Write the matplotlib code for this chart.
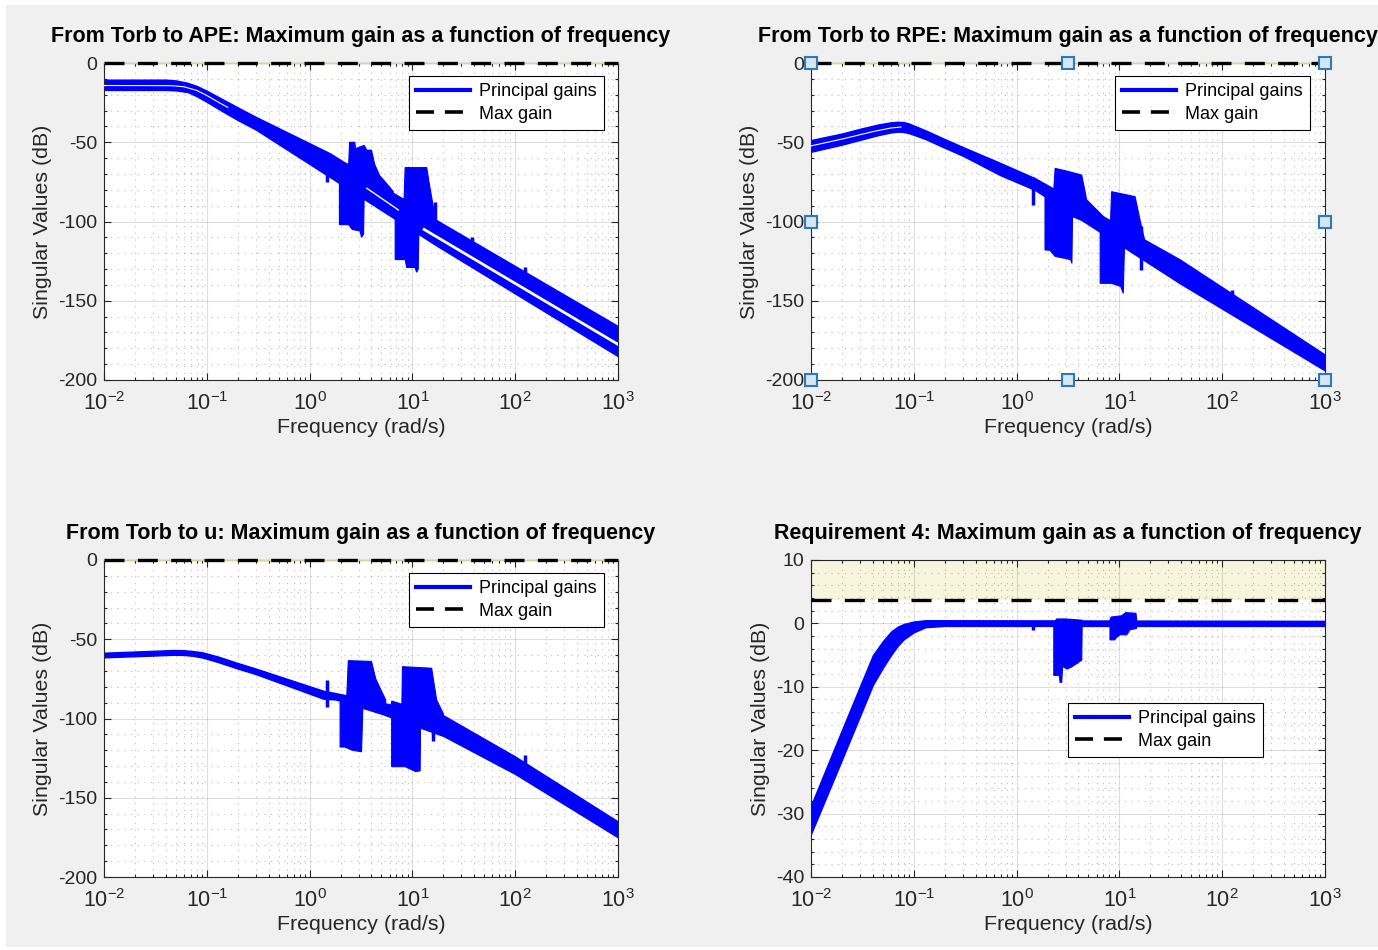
import numpy as np
import matplotlib
matplotlib.use('Agg')
import matplotlib.pyplot as plt
from matplotlib.ticker import LogLocator, MultipleLocator, NullFormatter
from matplotlib.lines import Line2D
from matplotlib.patches import Rectangle

plt.rcParams['font.family'] = ['Liberation Sans', 'DejaVu Sans']
plt.rcParams['axes.unicode_minus'] = False
plt.rcParams['mathtext.default'] = 'regular'

# ---- panel 1 : Torb -> APE (dB values) ----
ape_f = [0.01, 0.04, 0.05, 0.065, 0.08, 0.1, 0.13, 0.2, 0.3, 1.58, 17, 1000]
ape_top = [-10.5, -10.5, -11, -12.5, -14.5, -17.5, -21.5, -28, -34, -57, -99, -166]
ape_bot = [-17, -17, -17.3, -18.3, -21, -24.5, -29, -36, -42, -72, -115, -185]
ape_resA_f = [1.95, 2.4, 2.45, 2.75, 2.8, 3.4, 3.6, 4.0, 4.3, 4.8, 5.6, 6.5, 6.5, 3.4, 3.35, 3.2, 3.1, 2.6, 2.4, 1.95]
ape_resA_db = [-62, -64, -50, -50, -54, -52, -55, -55, -64, -71, -76, -81, -86, -80, -108, -110, -106, -105, -102, -102]
ape_resB_f = [6.8, 8.3, 8.5, 13.8, 14.5, 16.0, 16.0, 11.6, 11.4, 11.0, 10.6, 8.8, 8.5, 6.8]
ape_resB_db = [-83, -86, -66, -66, -75, -91, -100, -100, -130, -132, -129, -129, -124, -124]
ape_spike_f = [1.47, 16.6, 37.8, 124, 514]
ape_spike_lo = [-75, -107, -118, -143, -164]
ape_spike_hi = [-57, -88, -110, -129, -158]
ape_gap1_f = [0.01, 0.045, 0.06, 0.08, 0.1, 0.13, 0.16]
ape_gap1_db = [-14.2, -14.3, -15, -17.3, -20.5, -24.8, -28]
ape_gap2_f = [3.6, 7.3]
ape_gap2_db = [-79, -92.7]
ape_gap3_f = [13, 1000]
ape_gap3_db = [-105, -177.5]

# ---- panel 2 : Torb -> RPE ----
rpe_f = [0.01, 0.02, 0.03, 0.045, 0.06, 0.07, 0.08, 0.09, 0.103, 0.13, 0.2, 0.3, 0.69, 1.5, 38.8, 1000]
rpe_top = [-48.6, -44.5, -41.5, -38.8, -37.4, -37.1, -37.3, -38.2, -39.8, -42.5, -48, -53, -63, -72.6, -124, -184]
rpe_bot = [-56, -51.5, -48.5, -45.5, -43.8, -43.3, -43.5, -44.3, -45.6, -48, -53.5, -58.5, -70.7, -80, -139, -194]
rpe_resC_f = [1.89, 2.3, 2.37, 3.0, 4.3, 4.81, 8.1, 8.1, 3.5, 3.45, 3.35, 2.37, 2.1, 1.89]
rpe_resC_db = [-77, -80, -66.5, -68, -70.7, -86.4, -101, -106, -97, -126.4, -124, -122, -118, -118]
rpe_resD_f = [6.5, 8.2, 8.4, 14.2, 16.4, 17.5, 17.5, 11.2, 10.9, 10.3, 8.4, 6.5]
rpe_resD_db = [-97, -100, -81.2, -84.3, -103.3, -111, -118, -116, -145.3, -141, -139, -139]
rpe_spike_f = [1.45, 2.08, 16.4, 125]
rpe_spike_lo = [-89.6, -118, -130.6, -152]
rpe_spike_hi = [-71.7, -79, -103, -143]
rpe_gap_f = [0.01, 0.02, 0.04, 0.06, 0.075]
rpe_gap_db = [-52.3, -48, -43.3, -41, -40.4]
# edit-mode handles shown on panel 2
handle_f = [0.01, 10 ** 0.5, 1000, 0.01, 1000, 0.01, 10 ** 0.5, 1000]
handle_db = [0, 0, 0, -100, -100, -200, -200, -200]

# ---- panel 3 : Torb -> u ----
u_f = [0.01, 0.03, 0.047, 0.06, 0.074, 0.09, 0.1, 0.13, 0.2, 0.3, 1.36, 1.8, 5, 20, 100, 1000]
u_top = [-58.5, -57.3, -56.8, -56.9, -57.5, -58.2, -59, -61, -65, -68.5, -82.5, -84, -90, -98, -124, -165]
u_bot = [-61.4, -60.3, -59.8, -59.9, -60.5, -61.5, -62.3, -64.5, -68.5, -72, -87.5, -88, -97, -111, -135, -175]
u_resE_f = [1.98, 2.3, 2.38, 4.0, 4.4, 5.5, 5.5, 3.3, 3.2, 2.6, 2.2, 1.98]
u_resE_db = [-85, -86, -63.5, -64, -75, -88.3, -93, -92, -121, -120, -118, -118]
u_resF_f = [6.28, 7.9, 8.0, 15.4, 17.2, 20, 20, 12.0, 11.9, 10.8, 8.5, 6.28]
u_resF_db = [-89, -91, -67.3, -68.3, -88.3, -97, -104, -104, -133, -133.5, -130.4, -130.4]
u_spike_f = [1.47, 16.0, 125]
u_spike_lo = [-92.6, -114.5, -130]
u_spike_hi = [-75.7, -104, -123]

# ---- panel 4 : Requirement 4 ----
req_f = [0.01, 0.02, 0.04, 0.05, 0.06, 0.07, 0.08, 0.1, 0.13, 0.2, 1000]
req_top = [-28.7, -16.8, -5, -2.8, -1.3, -0.5, -0.1, 0.3, 0.5, 0.5, 0.4]
req_bot = [-33.2, -21.5, -9.7, -7.0, -5.0, -3.5, -2.5, -1.4, -0.6, -0.4, -0.4]
req_resG_f = [2.3, 2.3, 2.6, 2.65, 2.75, 2.8, 3.1, 3.4, 3.8, 4.3, 4.35, 3.0, 2.45, 2.35]
req_resG_db = [0, -8.2, -8.2, -9.3, -9.3, -6.8, -7.2, -6.9, -6.4, -5.8, 0.5, 0.7, 0.7, 0.3]
req_resH_f = [8.1, 8.1, 9.0, 9.4, 10.1, 11.8, 12.7, 14.7, 14.8, 14.5, 11.5, 10.5, 8.3, 8.1]
req_resH_db = [0, -2.6, -2.6, -2.2, -1.8, -1.8, -1.0, -0.8, 0.3, 1.6, 1.7, 1.2, 1.0, 0.5]
req_spike_f = [1.45]
req_spike_lo = [-1.0]
req_spike_hi = [0]

max_gain = [0, 0, 0, 3.7]
titles = ['From Torb to APE: Maximum gain as a function of frequency',
          'From Torb to RPE: Maximum gain as a function of frequency',
          'From Torb to u: Maximum gain as a function of frequency',
          'Requirement 4: Maximum gain as a function of frequency']

BLUE = '#0000ff'
GREY = '#262626'


def setup(ax, ylo, yhi, ystep, yminor, title):
    ax.set_xscale('log')
    ax.set_xlim(1e-2, 1e3)
    ax.set_ylim(ylo, yhi)
    ax.set_yticks(np.arange(ylo, yhi + 1, ystep))
    ax.yaxis.set_minor_locator(MultipleLocator(yminor))
    ax.xaxis.set_major_locator(LogLocator(base=10, numticks=10))
    ax.xaxis.set_minor_locator(LogLocator(base=10, subs=np.arange(2, 10), numticks=50))
    ax.xaxis.set_minor_formatter(NullFormatter())
    ax.tick_params(which='both', direction='in', top=True, right=True,
                   colors=GREY, width=0.8)
    ax.tick_params(axis='y', labelsize=14, pad=5)
    ax.tick_params(axis='x', labelsize=15.5, pad=9)
    ax.tick_params(which='major', length=5)
    ax.tick_params(which='minor', length=2.5)
    ax.grid(which='major', color=GREY, alpha=0.15, lw=0.8)
    ax.grid(which='minor', color=GREY, alpha=0.3, lw=0.8, ls=(0, (1, 5)))
    ax.set_axisbelow(True)
    for s in ax.spines.values():
        s.set_color(GREY)
        s.set_linewidth(0.8)
    ax.set_title(title, fontsize=15.5, fontweight='bold', pad=15)
    ax.set_xlabel('Frequency (rad/s)', fontsize=15.4, color=GREY, labelpad=2)
    ax.set_ylabel('Singular Values (dB)', fontsize=15.4, color=GREY)


def draw_gains(ax, f, top, bot, polys, spk_f, spk_lo, spk_hi):
    ax.fill_between(f, bot, top, color=BLUE, lw=1.0, zorder=2)
    for pf, pdb in polys:
        ax.fill(pf, pdb, color=BLUE, lw=0.8, zorder=2)
    ax.vlines(spk_f, spk_lo, spk_hi, color=BLUE, lw=2.5, zorder=2)


def max_line(ax, level):
    ax.axhline(level, color='#d6d29a', lw=1.0, zorder=4, clip_on=False)
    ax.axhline(level, color='k', lw=2.4, ls=(0, (6, 4)), zorder=5, clip_on=False)


def add_legend(ax, x1, y1):
    h = [Line2D([], [], color=BLUE, lw=3),
         Line2D([], [], color='k', lw=2.6, ls=(0, (5, 3)))]
    leg = ax.legend(h, ['Principal gains', 'Max gain'], loc='upper right',
                    bbox_to_anchor=(x1, y1), borderaxespad=0, fontsize=13,
                    fancybox=False, framealpha=1, edgecolor='k',
                    handlelength=3.0, handletextpad=0.5, labelspacing=0.3,
                    borderpad=0.4)
    leg.get_frame().set_linewidth(0.8)
    leg.set_zorder(10)


fig = plt.figure(figsize=(13.78, 9.5), dpi=100, facecolor='white')
fig.patches.append(Rectangle((6 / 1378, 3 / 950), 1, 942 / 950, transform=fig.transFigure,
                             facecolor='#f0f0f0', edgecolor='none', zorder=-1))

W, H = 514 / 1378, 317 / 950
ax1 = fig.add_axes([104 / 1378, 1 - 380 / 950, W, H])
ax2 = fig.add_axes([811 / 1378, 1 - 380 / 950, W, H])
ax3 = fig.add_axes([104 / 1378, 1 - 877 / 950, W, H])
ax4 = fig.add_axes([811 / 1378, 1 - 877 / 950, W, H])

# panel 1
setup(ax1, -200, 0, 50, 10, titles[0])
draw_gains(ax1, ape_f, ape_top, ape_bot,
           [(ape_resA_f, ape_resA_db), (ape_resB_f, ape_resB_db)],
           ape_spike_f, ape_spike_lo, ape_spike_hi)
ax1.plot(ape_gap1_f, ape_gap1_db, color='white', lw=0.8, zorder=3)
ax1.plot(ape_gap2_f, ape_gap2_db, color='white', lw=1.0, zorder=3)
ax1.plot(ape_gap3_f, ape_gap3_db, color='white', lw=2.0, zorder=3)
max_line(ax1, max_gain[0])
add_legend(ax1, (604 - 104) / 514, 1 - (76 - 63) / 317)

# panel 2
setup(ax2, -200, 0, 50, 10, titles[1])
draw_gains(ax2, rpe_f, rpe_top, rpe_bot,
           [(rpe_resC_f, rpe_resC_db), (rpe_resD_f, rpe_resD_db)],
           rpe_spike_f, rpe_spike_lo, rpe_spike_hi)
ax2.plot(rpe_gap_f, rpe_gap_db, color='white', lw=0.8, zorder=3)
max_line(ax2, max_gain[1])
ax2.plot(handle_f, handle_db, ls='none', marker='s', ms=8, mfc='#d5e6f4',
         mec='#2b7bba', mew=1.5, zorder=8, clip_on=False)
add_legend(ax2, (1310 - 811) / 514, 1 - (76 - 63) / 317)

# panel 3
setup(ax3, -200, 0, 50, 10, titles[2])
draw_gains(ax3, u_f, u_top, u_bot,
           [(u_resE_f, u_resE_db), (u_resF_f, u_resF_db)],
           u_spike_f, u_spike_lo, u_spike_hi)
max_line(ax3, max_gain[2])
add_legend(ax3, (604 - 104) / 514, 1 - (573 - 560) / 317)

# panel 4
setup(ax4, -40, 10, 10, 2, titles[3])
ax4.axhspan(max_gain[3], 10, color='#f7f6dc', lw=0, zorder=0.3)
draw_gains(ax4, req_f, req_top, req_bot,
           [(req_resG_f, req_resG_db), (req_resH_f, req_resH_db)],
           req_spike_f, req_spike_lo, req_spike_hi)
ax4.axhline(max_gain[3], color='k', lw=2.4, ls=(0, (6, 4)), zorder=5)
add_legend(ax4, (1263 - 811) / 514, 1 - (703 - 560) / 317)

plt.savefig('out.png', dpi=100, facecolor=fig.get_facecolor())
